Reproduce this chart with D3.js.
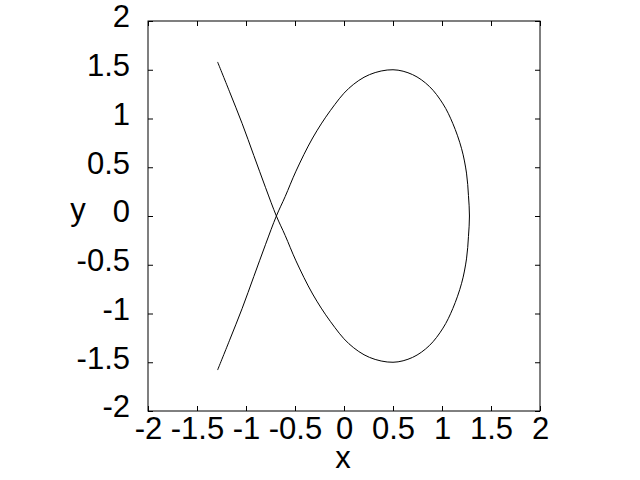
<!DOCTYPE html>
<html>
<head>
<meta charset="utf-8">
<script src="https://cdn.jsdelivr.net/npm/d3@7"></script>
<style>
  body { margin: 0; background: #fff; }
  text { font-family: "Liberation Sans", Arial, sans-serif; fill: #000; }
</style>
</head>
<body>
<svg width="640" height="480"></svg>
<script>
// points, in drawing order (top-left end -> loop -> bottom-left end)
var xs = [-1.29, -1.17, -1.04, -0.92, -0.80, -0.69,
          -0.60, -0.49, -0.32, -0.14, 0.05, 0.26, 0.50,
          0.70, 0.87, 1.01, 1.11, 1.20, 1.25, 1.27, 1.28,
          1.27, 1.25, 1.20, 1.11, 1.01, 0.87, 0.70, 0.50,
          0.26, 0.05, -0.14, -0.32, -0.49, -0.60, -0.69,
          -0.80, -0.92, -1.04, -1.17, -1.29];
var ys = [1.58, 1.28, 0.95, 0.62, 0.29, 0.00,
          -0.20, -0.46, -0.80, -1.08, -1.31, -1.45, -1.50,
          -1.45, -1.33, -1.15, -0.95, -0.69, -0.44, -0.21, 0.00,
          0.21, 0.44, 0.69, 0.95, 1.15, 1.33, 1.45, 1.50,
          1.45, 1.31, 1.08, 0.80, 0.46, 0.20, 0.00,
          -0.29, -0.62, -0.95, -1.28, -1.58];
var xTicks = [-2, -1.5, -1, -0.5, 0, 0.5, 1, 1.5, 2];
var yTicks = [-2, -1.5, -1, -0.5, 0, 0.5, 1, 1.5, 2];

var svg = d3.select("svg"),
    margin = {top: 21, right: 100, bottom: 69, left: 148},
    width = +svg.attr("width") - margin.left - margin.right,
    height = +svg.attr("height") - margin.top - margin.bottom;

var x = d3.scaleLinear().domain([-2, 2]).range([0, width]),
    y = d3.scaleLinear().domain([-2, 2]).range([height, 0]);

var g = svg.append("g")
    .attr("transform", "translate(" + margin.left + "," + margin.top + ")");

var fmt = function(d) { return String(d); };

// axes with inward ticks on all four sides
g.append("g")
    .attr("class", "axis axis--x")
    .attr("transform", "translate(0," + height + ")")
    .call(d3.axisBottom(x).tickValues(xTicks).tickFormat(fmt).tickSizeInner(-5).tickSizeOuter(0).tickPadding(6));
g.append("g")
    .attr("class", "axis axis--y")
    .call(d3.axisLeft(y).tickValues(yTicks).tickFormat(fmt).tickSizeInner(-5).tickSizeOuter(0).tickPadding(18));
g.append("g")
    .call(d3.axisTop(x).tickValues(xTicks).tickFormat("").tickSizeInner(-5).tickSizeOuter(0));
g.append("g")
    .attr("transform", "translate(" + width + ",0)")
    .call(d3.axisRight(y).tickValues(yTicks).tickFormat("").tickSizeInner(-5).tickSizeOuter(0));

g.selectAll(".domain").remove();
g.selectAll(".tick line").attr("stroke", "#000");
g.selectAll(".tick text").style("font-size", "31px");
g.selectAll(".axis--y .tick text").attr("dy", "0.19em");

g.append("rect")
    .attr("width", width)
    .attr("height", height)
    .attr("fill", "none")
    .attr("stroke", "#000");

var line = d3.line()
    .x(function(d) { return x(d[0]); })
    .y(function(d) { return y(d[1]); })
    .curve(d3.curveCatmullRom);

g.append("path")
    .datum(d3.zip(xs, ys))
    .attr("fill", "none")
    .attr("stroke", "#000")
    .attr("stroke-width", 1)
    .attr("d", line);

svg.append("text")
    .attr("x", margin.left + x(0) - 1)
    .attr("y", 468)
    .attr("text-anchor", "middle")
    .style("font-size", "31px")
    .text("x");

svg.append("text")
    .attr("x", 78)
    .attr("y", 220)
    .attr("text-anchor", "middle")
    .style("font-size", "31px")
    .text("y");
</script>
</body>
</html>
